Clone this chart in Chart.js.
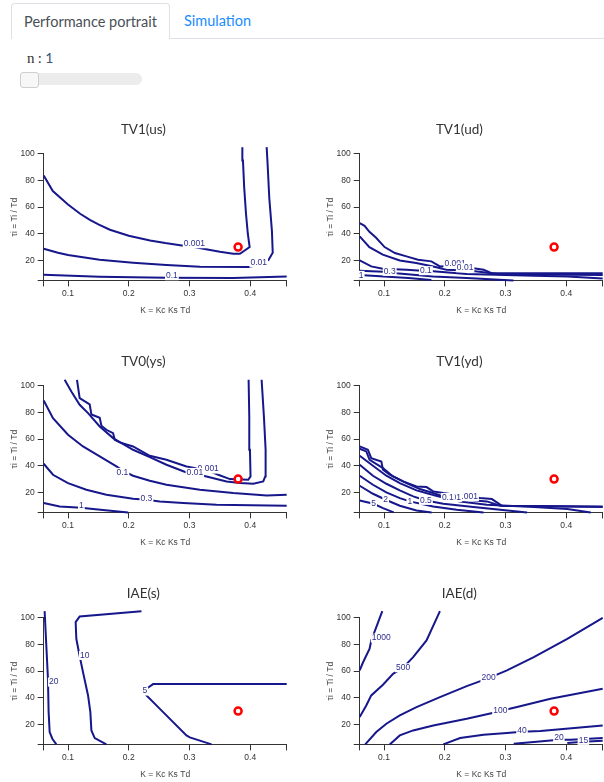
<!DOCTYPE html>
<html>
<head>
<meta charset="utf-8">
<title>Performance portrait</title>
<script src="https://cdn.jsdelivr.net/npm/chart.js@4.4.1/dist/chart.umd.min.js"></script>
<style>
    html, body { margin: 0; padding: 0; width: 604px; height: 782px; overflow: hidden; background: #fff; }
    body { position: relative; font-family: Lato, "Open Sans", sans-serif; }
    .tab { position: absolute; top: 3px; height: 35px; line-height: 35px; font-size: 14.5px; }
    .tab.active { left: 11px; width: 157px; border: 1px solid #dee2e6; border-bottom: none; border-radius: 4px 4px 0 0; color: #495057; text-align: center; background: #fff; }
    .tab.link { left: 184px; color: #1a8cff; }
    .tabline { position: absolute; left: 169px; right: 0; top: 38px; border-top: 1px solid #dee2e6; }
    .param { position: absolute; left: 27px; top: 49px; font-size: 14px; color: #333; }
    .param .sym { font-family: "Liberation Serif", serif; font-size: 15px; }
    .param .val { color: #3d5478; }
    .slider { position: absolute; left: 20px; top: 73px; width: 122px; height: 12px; border-radius: 6px; background: #ececec; }
    .thumb { position: absolute; left: 0; top: -1px; width: 17px; height: 14px; border: 1px solid #cfcfcf; border-radius: 3px; background: #f7f7f7; }
    canvas { position: absolute; }
</style>
</head>
<body>
<div class="tab active">Performance portrait</div>
<div class="tab link">Simulation</div>
<div class="tabline"></div>
<div class="param"><span class="sym">n</span> : <span class="val">1</span></div>
<div class="slider"><div class="thumb"></div></div>

<canvas id="tv1us" width="338" height="204" style="left:0px;top:122px"></canvas>
<canvas id="tv1ud" width="338" height="204" style="left:316px;top:122px"></canvas>
<canvas id="tv0ys" width="338" height="204" style="left:0px;top:354px"></canvas>
<canvas id="tv1yd" width="338" height="204" style="left:316px;top:354px"></canvas>
<canvas id="iaes" width="338" height="204" style="left:0px;top:586px"></canvas>
<canvas id="iaed" width="338" height="204" style="left:316px;top:586px"></canvas>

<script>
// axes
const xTicks = [0.1, 0.2, 0.3, 0.4];
const yTicks = [20, 40, 60, 80, 100];
const xRange = [0.06, 0.46];
const yRange = [5, 100];
const operatingPoint = [0.38, 30];

// TV1(us)
const tv1usLevels = ['0.001', '0.01', '0.1'];
const tv1usLines = [
    [[0.06, 83.8], [0.075, 72], [0.1, 62], [0.12, 55], [0.136, 50.5], [0.15, 47], [0.169, 43], [0.2, 38.5], [0.235, 35], [0.26, 33], [0.29, 31], [0.308, 30], [0.325, 28.5], [0.35, 26.5], [0.372, 25], [0.383, 25], [0.399, 30], [0.396, 40], [0.393, 55], [0.39, 75], [0.388, 95], [0.387, 105]],
    [[0.06, 28.75], [0.0835, 25.75], [0.1, 24], [0.152, 20.5], [0.207, 18.25], [0.262, 16.5], [0.317, 15.25], [0.4, 15], [0.414, 17], [0.43, 20.25], [0.437, 25.75], [0.4357, 42], [0.4313, 67], [0.4286, 92], [0.427, 105]],
    [[0.06, 9.25], [0.152, 7.75], [0.262, 7], [0.372, 6.75], [0.46, 8]]
];
const tv1usLabelAt = [[0.308, 32.5], [0.414, 18], [0.271, 8.5]];

// TV1(ud)
const tv1udLevels = ['0.001', '0.01', '0.1', '0.3', '1'];
const tv1udLines = [
    [[0.06, 48], [0.068, 46], [0.076, 41.5], [0.087, 37], [0.101, 30], [0.118, 25.5], [0.137, 23], [0.156, 20.5], [0.178, 19.3], [0.192, 15.5], [0.205, 15.8], [0.235, 14.8], [0.253, 13.8], [0.264, 13], [0.278, 10.3], [0.46, 10.3]],
    [[0.06, 38], [0.076, 30], [0.098, 24.3], [0.126, 20], [0.153, 18], [0.181, 15.5], [0.203, 13], [0.235, 12.5], [0.25, 11.8], [0.291, 9.6], [0.46, 9]],
    [[0.06, 20], [0.079, 15.5], [0.098, 13.8], [0.137, 13], [0.169, 12], [0.181, 11.8], [0.236, 9.8], [0.347, 8.5], [0.402, 8], [0.46, 6.5]],
    [[0.06, 12.3], [0.109, 11.3], [0.12, 10.3], [0.181, 8], [0.236, 6.8], [0.313, 5]],
    [[0.06, 9], [0.1, 8], [0.14, 6.8], [0.178, 5.3]]
];
const tv1udLabelAt = [[0.217, 17.5], [0.2335, 14.5], [0.169, 12.3], [0.1094, 11.8], [0.0625, 8.8]];

// TV0(ys)
const tv0ysLevels = ['0.001', '0.01', '0.1', '0.3', '1'];
const tv0ysLines = [
    [[0.1148, 104.5], [0.1192, 90.75], [0.1357, 86], [0.1385, 78.5], [0.1522, 76], [0.155, 70], [0.1632, 67], [0.1742, 64.5], [0.1769, 59.5], [0.1852, 57.5], [0.2071, 54.5], [0.2346, 47.5], [0.2621, 44.5], [0.295, 39.5], [0.33, 36.5], [0.3473, 33.25], [0.3665, 30], [0.3967, 29.5], [0.4005, 32], [0.3995, 52], [0.3984, 77], [0.3973, 104.5]],
    [[0.0945, 104.5], [0.1055, 95.75], [0.1192, 85.75], [0.133, 79.5], [0.1522, 69.5], [0.1742, 60.75], [0.2071, 52], [0.2346, 46.5], [0.2621, 40.75], [0.295, 35], [0.31, 34], [0.328, 32], [0.361, 28.25], [0.383, 27], [0.405, 26.5], [0.4214, 28.25], [0.4247, 32], [0.4253, 52], [0.4225, 77], [0.4187, 104.5]],
    [[0.06, 89], [0.0753, 75.75], [0.1, 63.25], [0.1247, 54.5], [0.1522, 47], [0.1797, 39.5], [0.1896, 36.5], [0.207, 32.5], [0.2346, 28.75], [0.2621, 25.75], [0.317, 22], [0.372, 19.5], [0.427, 17.75], [0.46, 18.25]],
    [[0.06, 41.5], [0.0753, 33.25], [0.1, 27], [0.1302, 22], [0.1632, 18.25], [0.2071, 15.25], [0.2291, 14.5], [0.2511, 13.25], [0.2896, 12], [0.3445, 10.75], [0.46, 10]],
    [[0.06, 12], [0.0863, 9.5], [0.122, 8.5], [0.1412, 7.5], [0.199, 5]]
];
const tv0ysLabelAt = [[0.3308, 37.5], [0.3088, 35], [0.1896, 35], [0.2291, 15], [0.122, 10]];

// TV1(yd)
const tv1ydLevels = ['0.001', '0.01', '0.1', '0.5', '1', '2', '5'];
const tv1ydLines = [
    [[0.06, 54.5], [0.0735, 52], [0.079, 45.75], [0.0956, 43.25], [0.0983, 37], [0.1094, 33.25], [0.1314, 28.25], [0.1535, 24.5], [0.17, 24], [0.181, 20.75], [0.1976, 19.5], [0.2362, 17], [0.2583, 15.75], [0.2776, 15], [0.2942, 10], [0.46, 9.5]],
    [[0.06, 52.75], [0.0708, 50.75], [0.0763, 44.5], [0.0983, 38.25], [0.1149, 32], [0.137, 27], [0.159, 22.5], [0.181, 19.5], [0.1976, 17], [0.2114, 16], [0.2362, 14.5], [0.2693, 13.25], [0.2914, 10], [0.46, 9]],
    [[0.06, 47.5], [0.0818, 40], [0.1039, 32.5], [0.126, 27], [0.1535, 21.5], [0.181, 18], [0.2031, 15.5], [0.2252, 13.25], [0.2693, 10.75], [0.3466, 9], [0.4017, 7.5], [0.4403, 5]],
    [[0.06, 40.75], [0.0818, 32.5], [0.1039, 26.5], [0.126, 21.5], [0.148, 17], [0.169, 14], [0.1976, 11.5], [0.2473, 9], [0.2914, 7], [0.3355, 5]],
    [[0.06, 32.5], [0.0818, 25.75], [0.1039, 20], [0.126, 15.75], [0.1425, 13.25], [0.181, 9.5], [0.2197, 7], [0.2638, 5]],
    [[0.06, 25], [0.0818, 19], [0.1028, 14.5], [0.126, 10], [0.1535, 6.5], [0.1783, 5]],
    [[0.06, 14], [0.0829, 11.5], [0.0983, 8.25], [0.116, 5]]
];
const tv1ydLabelAt = [[0.237, 16.8], [0.213, 16.2], [0.205, 16.2], [0.169, 14], [0.1425, 13.25], [0.1028, 14.5], [0.0829, 11.5]];

// IAE(s)
const iaesLevels = ['20', '10', '5'];
const iaesLines = [
    [[0.0615, 105], [0.0643, 79.25], [0.067, 54.25], [0.0681, 29.25], [0.0698, 14.25], [0.0742, 9.25], [0.0808, 5]],
    [[0.2209, 105], [0.1192, 101], [0.1126, 96.75], [0.1137, 84.25], [0.119, 71.75], [0.1247, 59.25], [0.133, 41.75], [0.1368, 29.25], [0.1385, 15.5], [0.144, 9.75], [0.1632, 5]],
    [[0.46, 50.25], [0.2401, 50.25], [0.2291, 46.75], [0.2264, 43], [0.2566, 29.25], [0.295, 11.75], [0.3005, 10.25], [0.3363, 5]]
];
const iaesLabelAt = [[0.0764, 51.75], [0.1275, 71.75], [0.2264, 45]];

// IAE(d)
const iaedLevels = ['1000', '500', '200', '100', '40', '20', '15'];
const iaedLines = [
    [[0.06, 60.5], [0.0652, 66.25], [0.0763, 76.75], [0.079, 83], [0.0884, 94.25], [0.0972, 105]],
    [[0.06, 25.5], [0.0708, 34.25], [0.079, 41.75], [0.0983, 49.75], [0.1149, 58], [0.1314, 62.5], [0.148, 70.5], [0.17, 83], [0.1921, 105]],
    [[0.0691, 5], [0.0873, 14.25], [0.1039, 20.5], [0.126, 26.75], [0.1535, 33], [0.1921, 40.5], [0.2362, 48.75], [0.2721, 54.75], [0.3024, 60.5], [0.3466, 70.5], [0.4017, 84.25], [0.46, 100]],
    [[0.1094, 5], [0.126, 11.75], [0.148, 15.5], [0.1811, 19.25], [0.2362, 24.25], [0.2804, 28.75], [0.2914, 30], [0.319, 33], [0.3741, 39.25], [0.46, 46.75]],
    [[0.1976, 5], [0.2252, 9.75], [0.2638, 12.25], [0.3024, 13.5], [0.3272, 14.5], [0.3576, 15], [0.46, 19.25]],
    [[0.3135, 5.5], [0.3466, 6.75], [0.3879, 8.5], [0.4072, 8.5], [0.46, 9.75]],
    [[0.4017, 6], [0.4282, 7], [0.46, 7.75]]
];
const iaedLabelAt = [[0.0956, 84.75], [0.1314, 62.5], [0.2721, 54.75], [0.2914, 30], [0.3272, 15.5], [0.3879, 10], [0.4282, 8]];

const lineColor = '#17178c';
const textFont = '"Liberation Sans", Arial, sans-serif';

// draws the level values on the contour lines, with a white box that breaks the line
const contourLabels = {
    id: 'contourLabels',
    afterDatasetsDraw(chart, args, opts) {
        const ctx = chart.ctx;
        const x = chart.scales.x, y = chart.scales.y;
        ctx.save();
        ctx.font = '8.5px ' + textFont;
        ctx.textAlign = 'center';
        ctx.textBaseline = 'middle';
        opts.points.forEach((p, i) => {
            const px = x.getPixelForValue(p[0]);
            const py = y.getPixelForValue(p[1]);
            const w = ctx.measureText(opts.texts[i]).width;
            ctx.fillStyle = '#fff';
            ctx.fillRect(px - w / 2 - 1, py - 4.5, w + 2, 9);
            ctx.fillStyle = '#2e2e8e';
            ctx.fillText(opts.texts[i], px, py);
        });
        ctx.restore();
    }
};

// d3-like axis: labelled ticks plus unlabelled outer ticks at the ends of the domain
function axisTicks(values, range) {
    let all = values.slice();
    range.forEach(v => { if (!all.includes(v)) all.push(v); });
    return all.sort((a, b) => a - b).map(v => ({value: v}));
}

function makeChart(id, title, levels, lines, labelAt) {
    let datasets = [{
        label: 'operating point',
        data: [{x: operatingPoint[0], y: operatingPoint[1]}],
        showLine: false,
        pointRadius: 3.5,
        borderWidth: 2.5,
        borderColor: '#ff0000',
        backgroundColor: '#ffffff',
        clip: false
    }];
    lines.forEach((pts, i) => {
        datasets.push({
            label: levels[i],
            data: pts.map(p => ({x: p[0], y: p[1]})),
            showLine: true,
            borderColor: lineColor,
            borderWidth: 2,
            pointRadius: 0,
            fill: false,
            tension: 0,
            clip: false
        });
    });

    new Chart(document.getElementById(id), {
        type: 'scatter',
        data: { datasets: datasets },
        plugins: [contourLabels],
        options: {
            responsive: false,
            animation: false,
            events: [],
            layout: { padding: { left: 0, right: 51.3, top: 0, bottom: 0 } },
            plugins: {
                legend: { display: false },
                tooltip: { enabled: false },
                title: {
                    display: true,
                    text: title,
                    color: '#333',
                    font: { family: 'Lato, "Open Sans", sans-serif', size: 13.5, weight: 'normal' },
                    padding: { top: 0, bottom: 15.6 }
                },
                contourLabels: { points: labelAt, texts: levels }
            },
            scales: {
                x: {
                    type: 'linear',
                    min: xRange[0],
                    max: xRange[1],
                    afterBuildTicks: s => { s.ticks = axisTicks(xTicks, xRange); },
                    afterFit: s => { s.height = 45.6; },
                    ticks: {
                        color: '#333',
                        font: { family: textFont, size: 8.5 },
                        padding: 2,
                        maxRotation: 0,
                        autoSkip: false,
                        callback: v => xTicks.includes(v) ? String(v) : ''
                    },
                    grid: { drawOnChartArea: false, drawTicks: true, tickLength: 6, color: '#333' },
                    border: { color: '#333' },
                    title: {
                        display: true,
                        text: 'K = Kc Ks Td',
                        color: '#444',
                        font: { family: textFont, size: 8.5 },
                        padding: { top: 0, bottom: 10.5 }
                    }
                },
                y: {
                    type: 'linear',
                    min: yRange[0],
                    max: yRange[1],
                    afterBuildTicks: s => { s.ticks = axisTicks(yTicks, yRange); },
                    afterFit: s => { s.width = 43.7; },
                    ticks: {
                        color: '#333',
                        font: { family: textFont, size: 8.5 },
                        padding: 3,
                        autoSkip: false,
                        callback: v => yTicks.includes(v) ? String(v) : ''
                    },
                    grid: { drawOnChartArea: false, drawTicks: true, tickLength: 6, color: '#333' },
                    border: { color: '#333' },
                    title: {
                        display: true,
                        text: 'τi = Ti / Td',
                        color: '#444',
                        font: { family: textFont, size: 8.5 },
                        padding: { top: 9.9, bottom: 0 }
                    }
                }
            }
        }
    });
}

makeChart('tv1us', 'TV1(us)', tv1usLevels, tv1usLines, tv1usLabelAt);
makeChart('tv1ud', 'TV1(ud)', tv1udLevels, tv1udLines, tv1udLabelAt);
makeChart('tv0ys', 'TV0(ys)', tv0ysLevels, tv0ysLines, tv0ysLabelAt);
makeChart('tv1yd', 'TV1(yd)', tv1ydLevels, tv1ydLines, tv1ydLabelAt);
makeChart('iaes', 'IAE(s)', iaesLevels, iaesLines, iaesLabelAt);
makeChart('iaed', 'IAE(d)', iaedLevels, iaedLines, iaedLabelAt);
</script>
</body>
</html>
